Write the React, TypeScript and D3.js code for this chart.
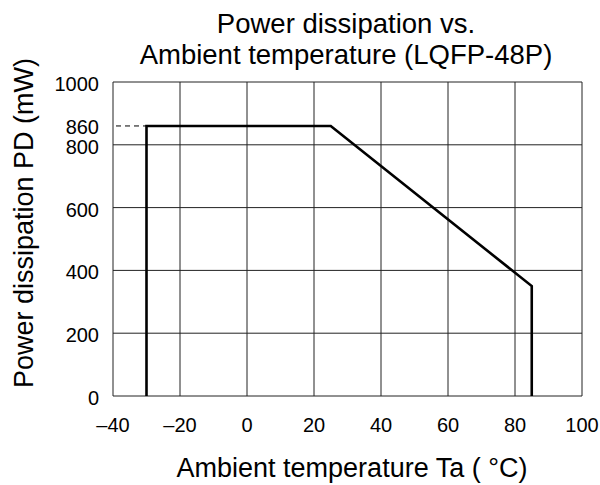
import React from "react";
import * as d3 from "d3";

const xTicks = [-40, -20, 0, 20, 40, 60, 80, 100];
const yTicks = [0, 200, 400, 600, 800, 1000];
const temps = [-30, -30, 25, 85, 85];
const power = [0, 860, 860, 350, 0];
const markedPower = 860;
const titleLines = ["Power dissipation vs.", "Ambient temperature (LQFP-48P)"];
const xLabel = "Ambient temperature Ta ( °C)";
const yLabel = "Power dissipation PD (mW)";

const W = 600;
const H = 485;
const font = "'Liberation Sans', Arial, Helvetica, sans-serif";

export default function App() {
  const x = d3.scaleLinear().domain([-40, 100]).range([113, 582]);
  const y = d3.scaleLinear().domain([0, 1000]).range([396, 82]);
  const pts = temps.map((t, i) => [t, power[i]] as [number, number]);
  const line = d3
    .line<[number, number]>()
    .x((d) => x(d[0]))
    .y((d) => y(d[1]));
  const fmt = (v: number) => (v < 0 ? "\u2013" + Math.abs(v) : String(v));

  return (
    <svg
      width={W}
      height={H}
      style={{ position: "absolute", left: 0, top: 0, background: "#fff" }}
      fontFamily={font}
    >
      <rect x={0} y={0} width={W} height={H} fill="#fff" />
      {/* grid */}
      {xTicks.map((t) => (
        <line key={"gx" + t} x1={x(t)} x2={x(t)} y1={y(0)} y2={y(1000)} stroke="#222" strokeWidth={1} />
      ))}
      {yTicks.map((t) => (
        <line key={"gy" + t} x1={x(-40)} x2={x(100)} y1={y(t)} y2={y(t)} stroke="#222" strokeWidth={1} />
      ))}
      {/* dashed reference */}
      <line
        x1={x(-40) + 3}
        x2={x(-30)}
        y1={y(markedPower)}
        y2={y(markedPower)}
        stroke="#000"
        strokeWidth={1}
        strokeDasharray="5,4"
      />
      {/* data */}
      <path d={line(pts) || ""} fill="none" stroke="#000" strokeWidth={2.6} strokeLinejoin="miter" />
      {/* y tick labels */}
      {yTicks.map((t) => (
        <text key={"ly" + t} x={99} y={y(t) + 2} dy="0.35em" textAnchor="end" fontSize={20} fill="#000">
          {t}
        </text>
      ))}
      <text x={99} y={y(markedPower) + 1} dy="0.35em" textAnchor="end" fontSize={20} fill="#000">
        {markedPower}
      </text>
      {/* x tick labels */}
      {xTicks.map((t) => (
        <text key={"lx" + t} x={x(t)} y={432} textAnchor="middle" fontSize={20} fill="#000">
          {fmt(t)}
        </text>
      ))}
      {/* title */}
      <text x={346} y={33} textAnchor="middle" fontSize={27.5} fill="#000">
        {titleLines[0]}
      </text>
      <text x={346} y={64} textAnchor="middle" fontSize={27.5} fill="#000">
        {titleLines[1]}
      </text>
      {/* axis labels */}
      <text x={352} y={477} textAnchor="middle" fontSize={27} fill="#000">
        {xLabel}
      </text>
      <text
        transform={`translate(33,223) rotate(-90)`}
        textAnchor="middle"
        fontSize={27}
        fill="#000"
      >
        {yLabel}
      </text>
    </svg>
  );
}
